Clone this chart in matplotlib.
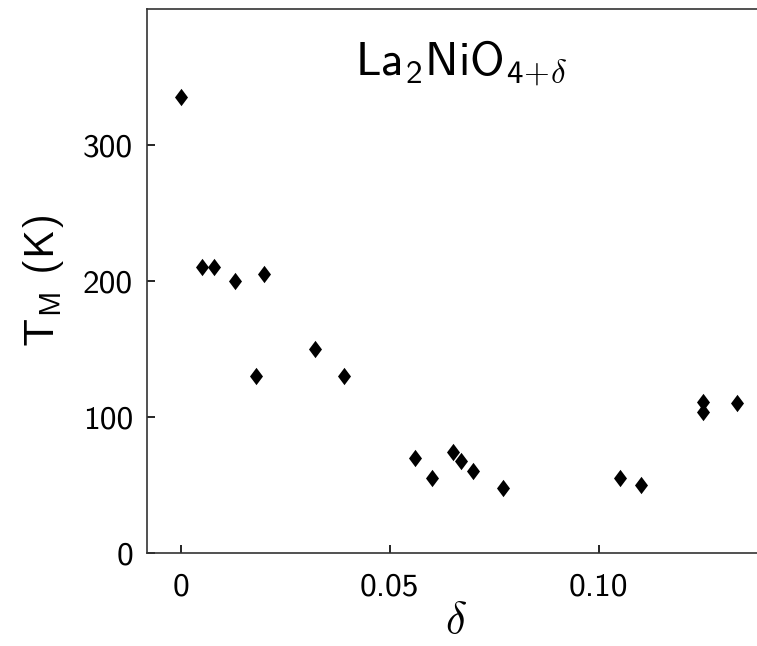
import matplotlib
matplotlib.use("Agg")
import matplotlib.pyplot as plt
from matplotlib.path import Path

# Data
delta = [0.000, 0.005, 0.008, 0.013, 0.018, 0.020, 0.032, 0.039,
         0.056, 0.060, 0.065, 0.067, 0.070, 0.077, 0.105, 0.110,
         0.125, 0.125, 0.133]
TM = [335, 210, 210, 200, 130, 205, 150, 130,
      70, 55, 74, 68, 60, 48, 55, 50,
      111, 104, 110]
xticks = [0, 0.05, 0.10]
xticklabels = ["0", "0.05", "0.10"]
yticks = [0, 100, 200, 300]
yticklabels = ["0", "100", "200", "300"]

plt.rcParams['font.family'] = ['cmss10', 'DejaVu Sans']
plt.rcParams['mathtext.fontset'] = 'cm'

W, H = 757, 646
fig = plt.figure(figsize=(W / 100, H / 100), dpi=100)
left, right, bottom, top = 147, 766, 553, 9
ax = fig.add_axes([left / W, (H - bottom) / H, (right - left) / W, (bottom - top) / H])

diamond = Path([(0, -1), (0.75, 0), (0, 1), (-0.75, 0), (0, -1)],
               [Path.MOVETO, Path.LINETO, Path.LINETO, Path.LINETO, Path.CLOSEPOLY])
ax.plot(delta, TM, linestyle='none', marker=diamond, markersize=12.5,
        color='black', markeredgewidth=0)

ax.set_xlim(-0.0081, 0.14)
ax.set_ylim(0, 400)
ax.set_xticks(xticks)
ax.set_xticklabels(xticklabels)
ax.set_yticks(yticks)
ax.set_yticklabels(yticklabels)
ax.tick_params(direction='in', length=6, width=1.2, labelsize=24, pad=14, colors='black')
ax.tick_params(axis='y', pad=10)
for s in ax.spines.values():
    s.set_linewidth(1.2)
    s.set_color('#333333')
ax.spines['right'].set_visible(False)

ax.text(0.507, 0.945, r'La$_\mathregular{2}$NiO$_{\mathregular{4}\!+\!\delta}$', transform=ax.transAxes,
        ha='center', va='top', fontsize=34)
ax.set_ylabel(r'T$_\mathregular{M}$ (K)', fontsize=30, labelpad=12)
ax.set_xlabel(r'$\delta$', fontsize=32, labelpad=0)

fig.savefig('out.png', dpi=100)
